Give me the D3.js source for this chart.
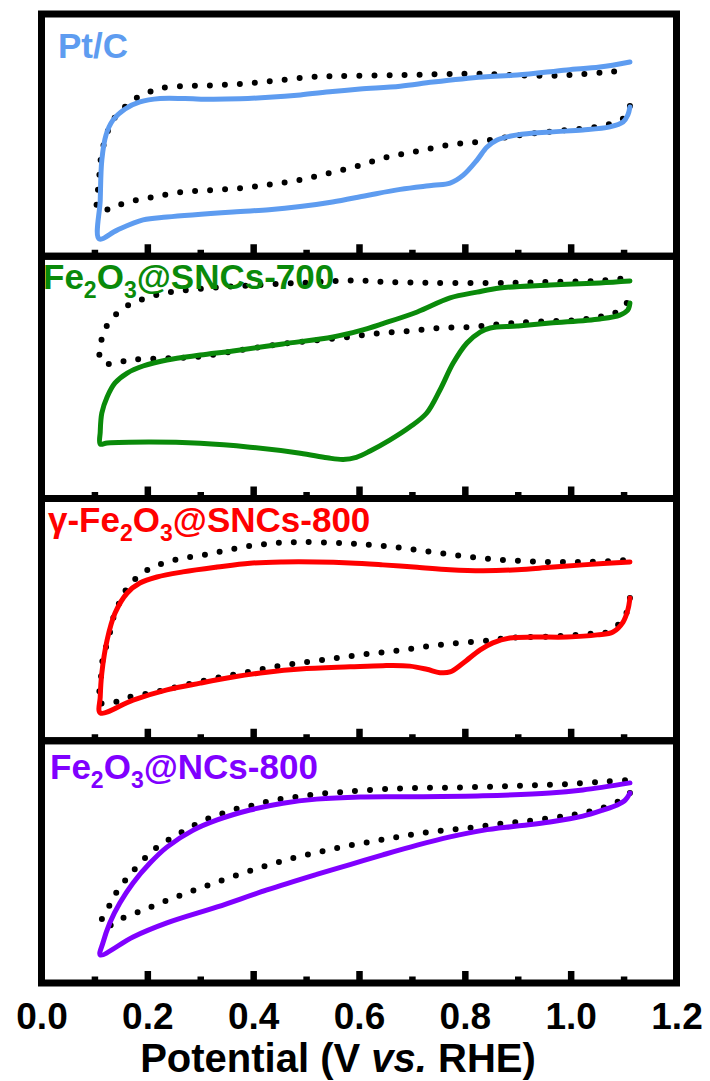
<!DOCTYPE html>
<html>
<head>
<meta charset="utf-8">
<script src="https://cdn.jsdelivr.net/npm/d3@7"></script>
<style>
    html, body { margin: 0; padding: 0; background: #fff; }
    svg { display: block; }
</style>
</head>
<body>
<svg id="chart" width="710" height="1081"></svg>
<script>
// x axis
var potentialTicks = [0.0, 0.2, 0.4, 0.6, 0.8, 1.0, 1.2];
var majorTicks = [0.2, 0.4, 0.6, 0.8, 1.0];
var minorTicks = [0.1, 0.3, 0.5, 0.7, 0.9, 1.1];

// one entry per panel, top to bottom ({n} = subscript)
var sampleNames = ["Pt/C", "Fe{2}O{3}@SNCs-700", "\u03b3-Fe{2}O{3}@SNCs-800", "Fe{2}O{3}@NCs-800"];
var sampleColors = ["#5e9cf0", "#0a8a0a", "#ff0000", "#8000ff"];

// CV loops, [potential (V vs. RHE), current (a.u., 0-100 per panel)]
// solid = O2-saturated, dotted = N2-saturated
var ptcO2 = [
    [1.112, 61.6], [1.108, 58.3], [1.099, 55.4], [1.074, 53.4], [1.023, 52.1], [0.961, 51.3], [0.899, 50.1],
    [0.861, 48.0], [0.842, 45.1], [0.823, 39.7], [0.797, 33.5], [0.772, 30.2], [0.740, 29.3], [0.678, 27.6],
    [0.615, 25.1], [0.550, 22.4], [0.489, 20.5], [0.430, 19.2], [0.362, 18.3], [0.237, 16.2], [0.192, 15.0],
    [0.143, 10.8], [0.109, 7.2],
    [0.111, 23.2], [0.114, 39.7], [0.122, 50.1], [0.135, 56.2], [0.158, 60.8], [0.186, 63.7], [0.224, 65.1],
    [0.271, 65.1], [0.320, 64.8], [0.375, 65.0], [0.430, 65.6], [0.489, 66.6], [0.550, 68.0], [0.602, 69.0],
    [0.678, 70.2], [0.740, 71.9], [0.834, 74.0], [0.899, 74.8], [0.993, 76.9], [1.055, 78.1], [1.112, 80.2]
];
var ptcN2 = [
    [1.112, 62.0], [1.103, 57.5], [1.080, 55.0], [1.050, 53.4], [0.993, 52.1], [0.936, 50.9], [0.880, 49.2],
    [0.823, 47.2], [0.768, 45.9], [0.711, 43.4], [0.655, 41.0], [0.598, 37.3], [0.545, 34.4], [0.489, 31.5],
    [0.436, 29.8], [0.381, 28.2], [0.324, 27.3], [0.267, 26.5], [0.211, 24.5], [0.158, 22.0], [0.133, 19.9],
    [0.107, 19.1],
    [0.109, 31.5], [0.111, 38.5], [0.116, 44.7], [0.124, 50.9], [0.135, 56.2], [0.152, 60.4], [0.173, 64.5],
    [0.199, 67.4], [0.228, 69.5], [0.284, 70.3], [0.341, 70.7], [0.398, 71.5], [0.455, 72.8], [0.511, 74.0],
    [0.564, 74.4], [0.678, 74.8], [0.766, 75.2], [0.823, 75.4], [0.880, 74.9], [0.961, 74.5], [1.023, 75.2],
    [1.074, 76.1], [1.106, 76.9]
];
var snc700O2 = [
    [1.112, 80.7], [1.108, 77.8], [1.093, 75.7], [1.055, 74.1], [0.961, 72.4], [0.899, 71.2], [0.848, 70.4],
    [0.829, 68.7], [0.804, 64.2], [0.778, 55.9], [0.753, 44.8], [0.728, 35.3], [0.696, 29.5], [0.658, 24.1],
    [0.621, 19.6], [0.595, 17.0], [0.570, 16.1], [0.540, 16.8], [0.489, 18.7], [0.394, 21.2], [0.300, 22.8],
    [0.205, 23.3], [0.124, 22.9], [0.111, 22.5],
    [0.111, 27.5], [0.114, 35.3], [0.124, 41.9], [0.139, 47.7], [0.162, 51.8], [0.192, 54.7], [0.237, 57.2],
    [0.300, 59.2], [0.362, 60.9], [0.456, 63.8], [0.551, 66.7], [0.602, 69.3], [0.645, 72.2], [0.710, 77.0],
    [0.772, 82.8], [0.823, 85.2], [0.866, 86.9], [0.961, 88.1], [1.055, 89.0], [1.112, 89.8]
];
var snc700N2 = [
    [1.106, 80.7], [1.087, 77.0], [1.061, 75.3], [1.012, 73.7], [0.923, 72.9], [0.866, 72.0], [0.810, 70.8],
    [0.751, 70.4], [0.696, 69.1], [0.640, 68.3], [0.583, 66.7], [0.526, 65.4], [0.470, 64.2], [0.413, 62.5],
    [0.356, 60.5], [0.300, 58.6], [0.243, 57.9], [0.186, 57.5], [0.158, 56.8], [0.129, 55.5], [0.111, 57.2],
    [0.112, 63.4], [0.118, 69.1], [0.133, 74.1], [0.152, 78.2], [0.177, 81.1], [0.205, 83.2], [0.233, 84.8],
    [0.262, 85.7], [0.318, 86.9], [0.375, 87.7], [0.489, 89.0], [0.592, 90.0], [0.653, 89.4], [0.738, 89.0],
    [0.880, 89.0], [0.965, 89.4], [1.050, 89.8], [1.106, 91.0]
];
var snc800O2 = [
    [1.112, 58.9], [1.108, 54.0], [1.099, 49.0], [1.080, 44.9], [1.050, 43.7], [0.993, 42.8], [0.929, 42.8],
    [0.885, 42.4], [0.853, 40.4], [0.829, 37.5], [0.797, 32.1], [0.772, 28.4], [0.753, 28.1], [0.728, 29.5],
    [0.696, 30.8], [0.645, 31.0], [0.583, 30.5], [0.489, 29.6], [0.426, 28.3], [0.362, 26.3], [0.300, 23.8],
    [0.237, 21.0], [0.173, 16.8], [0.111, 11.5],
    [0.111, 18.1], [0.114, 28.0], [0.124, 41.6], [0.139, 52.7], [0.162, 61.0], [0.186, 65.1], [0.218, 67.6],
    [0.267, 69.7], [0.332, 71.7], [0.394, 73.3], [0.456, 73.8], [0.520, 73.8], [0.583, 73.4], [0.645, 72.6],
    [0.710, 71.6], [0.772, 70.6], [0.834, 70.2], [0.899, 70.6], [0.961, 71.6], [1.023, 72.6], [1.112, 73.8]
];
var snc800N2 = [
    [1.112, 58.9], [1.106, 53.1], [1.093, 48.6], [1.065, 44.5], [1.036, 44.1], [0.980, 43.2], [0.923, 42.8],
    [0.891, 42.6], [0.863, 42.0], [0.834, 41.1], [0.778, 40.2], [0.721, 38.7], [0.668, 37.1], [0.611, 35.7],
    [0.558, 34.2], [0.502, 32.5], [0.445, 30.7], [0.385, 28.2], [0.328, 25.8], [0.271, 23.0], [0.215, 20.1],
    [0.158, 17.6], [0.133, 15.6], [0.107, 16.0],
    [0.111, 22.2], [0.116, 34.2], [0.126, 41.6], [0.139, 53.1], [0.152, 58.9], [0.163, 63.5], [0.186, 68.4],
    [0.211, 71.7], [0.239, 73.8], [0.267, 75.4], [0.296, 76.3], [0.324, 77.5], [0.352, 78.7], [0.381, 80.0],
    [0.409, 80.8], [0.437, 81.6], [0.494, 82.0], [0.568, 81.6], [0.625, 80.8], [0.681, 79.6], [0.738, 77.9],
    [0.795, 76.3], [0.851, 75.0], [0.908, 74.2], [0.965, 73.8], [1.021, 73.8], [1.078, 74.2], [1.106, 74.6]
];
var nc800O2 = [
    [1.112, 78.4], [1.103, 75.5], [1.088, 73.5], [1.061, 71.4], [1.023, 68.9], [0.961, 66.5], [0.899, 64.8],
    [0.834, 63.0], [0.772, 60.3], [0.710, 56.9], [0.645, 52.9], [0.583, 48.9], [0.520, 44.8], [0.426, 38.4],
    [0.332, 31.4], [0.237, 24.8], [0.173, 19.0], [0.111, 11.6],
    [0.116, 16.5], [0.129, 24.8], [0.148, 33.0], [0.173, 41.3], [0.205, 49.5], [0.237, 56.1], [0.286, 63.0],
    [0.332, 67.3], [0.394, 71.4], [0.456, 74.2], [0.520, 75.9], [0.602, 76.8], [0.710, 76.9], [0.834, 77.3],
    [0.961, 78.4], [1.023, 79.7], [1.112, 82.6]
];
var nc800N2 = [
    [1.112, 78.4], [1.088, 74.7], [1.059, 72.2], [1.031, 70.6], [1.003, 69.4], [0.974, 68.5], [0.919, 66.9],
    [0.863, 65.6], [0.806, 64.0], [0.749, 62.7], [0.694, 61.1], [0.640, 59.0], [0.583, 56.8], [0.528, 54.2],
    [0.473, 51.4], [0.417, 47.9], [0.356, 43.5], [0.300, 39.2], [0.249, 35.1], [0.196, 30.4], [0.145, 26.0],
    [0.122, 23.0],
    [0.114, 26.0], [0.129, 32.2], [0.141, 37.2], [0.156, 41.7], [0.173, 46.2], [0.194, 51.2], [0.214, 55.3],
    [0.239, 59.0], [0.265, 62.3], [0.286, 64.8], [0.313, 67.7], [0.339, 69.8], [0.367, 71.8], [0.396, 73.1],
    [0.424, 74.7], [0.453, 76.0], [0.481, 76.8], [0.509, 77.6], [0.538, 78.4], [0.566, 78.8], [0.596, 79.3],
    [0.653, 80.1], [0.710, 80.5], [0.766, 80.6], [0.825, 80.9], [0.882, 81.3], [0.938, 81.7], [0.995, 82.1],
    [1.052, 83.0], [1.080, 83.4], [1.110, 83.8]
];

var o2Curves = [ptcO2, snc700O2, snc800O2, nc800O2];
var n2Curves = [ptcN2, snc700N2, snc800N2, nc800N2];

/**
 * Stacked CV panels sharing one potential axis.
 * @param {Object} options - override of the defaults
 * @constructor
 */
function StackedCv(options) {

    var self = this,
        defaults = {
            left: 41.5,
            right: 676.5,
            top: 14,
            bottom: 983,
            frameWidth: 7,
            fontFamily: "'Liberation Sans', Arial, Helvetica, sans-serif",
            tick: {major: 12, minor: 6.5, width: 6.5},
            solidWidth: 5,
            dot: {size: 6, gap: 15},
            label: {fontSize: 35, subSize: 23, subShift: 9,
                x: [58, 43, 48, 50], offsetY: [44, 33, 33.5, 38]},
            tickLabel: {fontSize: 37, padding: 20},
            title: {x: 338, y: 1072, fontSize: 40}
        };

    self.config = Object.assign({}, defaults, options || {});

    self.svg = d3.select("#chart");

    self.x = d3.scaleLinear()
        .domain([potentialTicks[0], potentialTicks[potentialTicks.length - 1]])
        .range([self.config.left, self.config.right]);

    self.panelHeight = (self.config.bottom - self.config.top) / sampleNames.length;

    self.initialize = function () {
        sampleNames.forEach(function (name, i) {
            self._drawPanel(i);
        });
        self._drawBottomAxis();
        return self;
    };

    /**
     * One panel: loops, inward ticks, frame and sample label
     * @private
     */
    self._drawPanel = function (i) {
        var conf = self.config,
            top = conf.top + i * self.panelHeight,
            bottom = top + self.panelHeight,
            y = d3.scaleLinear().domain([0, 100]).range([bottom, top]),
            g = self.svg.append("g"),
            line = d3.line()
                .x(function (d) { return self.x(d[0]); })
                .y(function (d) { return y(d[1]); })
                .curve(d3.curveCatmullRom.alpha(0.5));

        // dotted N2 loop
        g.append("path")
            .datum(n2Curves[i])
            .attr("d", line)
            .attr("fill", "none")
            .attr("stroke", "#000")
            .attr("stroke-width", conf.dot.size)
            .attr("stroke-linecap", "round")
            .attr("stroke-dasharray", "0 " + conf.dot.gap);

        // solid O2 loop
        g.append("path")
            .datum(o2Curves[i])
            .attr("d", line)
            .attr("fill", "none")
            .attr("stroke", sampleColors[i])
            .attr("stroke-width", conf.solidWidth)
            .attr("stroke-linejoin", "round")
            .attr("stroke-linecap", "round");

        // ticks pointing up from the bottom edge
        self._drawTicks(g, bottom, majorTicks, conf.tick.major);
        self._drawTicks(g, bottom, minorTicks, conf.tick.minor);

        g.append("rect")
            .attr("x", conf.left)
            .attr("y", top)
            .attr("width", conf.right - conf.left)
            .attr("height", self.panelHeight)
            .attr("fill", "none")
            .attr("stroke", "#000")
            .attr("stroke-width", conf.frameWidth);

        self._drawLabel(g, sampleNames[i], conf.label.x[i], top + conf.label.offsetY[i], sampleColors[i]);
    };

    self._drawTicks = function (g, yPos, values, size) {
        var axis = g.append("g")
            .attr("transform", "translate(0," + yPos + ")")
            .call(d3.axisTop(self.x).tickValues(values).tickSize(size).tickFormat(""));
        axis.select(".domain").remove();
        axis.selectAll(".tick line")
            .attr("stroke", "#000")
            .attr("stroke-width", self.config.tick.width);
    };

    /**
     * Label with {n} parts set as subscripts
     * @private
     */
    self._drawLabel = function (g, text, x, y, color) {
        var conf = self.config.label,
            parts = text.split(/(\{[^}]*\})/).filter(function (p) { return p.length; }),
            node = g.append("text")
                .attr("x", x)
                .attr("y", y)
                .attr("fill", color)
                .style("font-family", self.config.fontFamily)
                .style("font-weight", "bold")
                .style("font-size", conf.fontSize + "px"),
            shift = 0;

        parts.forEach(function (p) {
            var isSub = p.charAt(0) === "{",
                want = isSub ? conf.subShift : 0;
            node.append("tspan")
                .attr("dy", want - shift)
                .style("font-size", (isSub ? conf.subSize : conf.fontSize) + "px")
                .text(isSub ? p.slice(1, -1) : p);
            shift = want;
        });
    };

    self._drawBottomAxis = function () {
        var conf = self.config,
            axis = self.svg.append("g")
                .attr("transform", "translate(0," + conf.bottom + ")")
                .call(d3.axisBottom(self.x)
                    .tickValues(potentialTicks)
                    .tickSize(0)
                    .tickPadding(conf.tickLabel.padding)
                    .tickFormat(d3.format(".1f")));
        axis.select(".domain").remove();
        axis.selectAll("text")
            .attr("fill", "#000")
            .style("font-family", conf.fontFamily)
            .style("font-weight", "bold")
            .style("font-size", conf.tickLabel.fontSize + "px");

        var title = self.svg.append("text")
            .attr("x", conf.title.x)
            .attr("y", conf.title.y)
            .attr("text-anchor", "middle")
            .attr("fill", "#000")
            .style("font-family", conf.fontFamily)
            .style("font-weight", "bold")
            .style("font-size", conf.title.fontSize + "px");
        title.append("tspan").text("Potential (V ");
        title.append("tspan").style("font-style", "italic").text("vs.");
        title.append("tspan").text(" RHE)");
    };
}

new StackedCv().initialize();
</script>
</body>
</html>
